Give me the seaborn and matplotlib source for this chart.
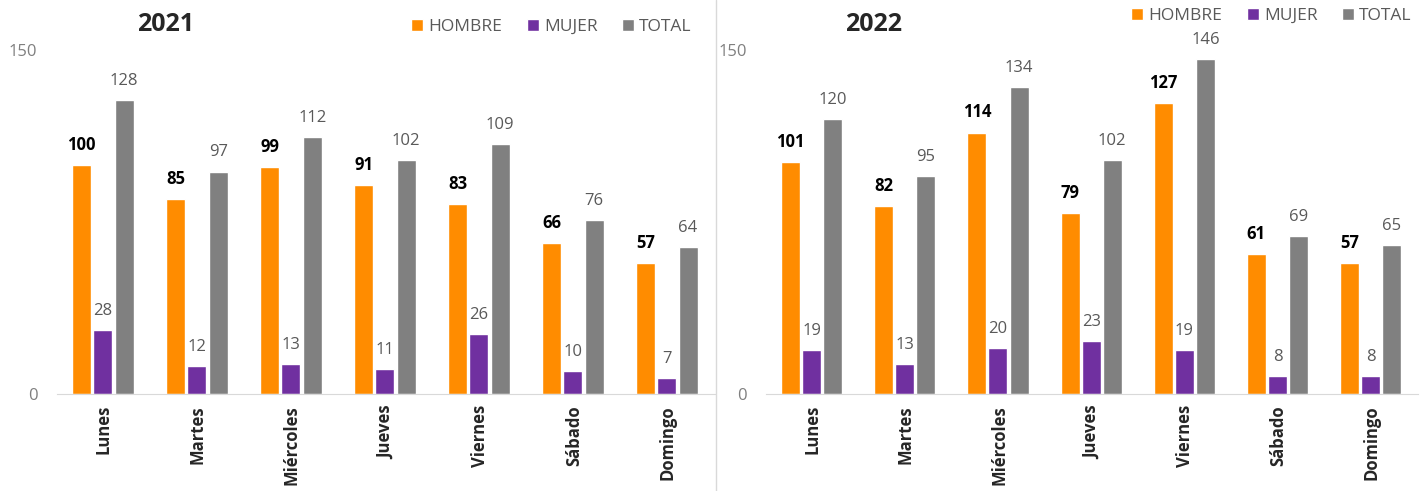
import pandas as pd
import numpy as np
import matplotlib.pyplot as plt
import seaborn as sns

# data
dias = ["Lunes", "Martes", "Miércoles", "Jueves", "Viernes", "Sábado", "Domingo"]
hombre_2021 = [100, 85, 99, 91, 83, 66, 57]
mujer_2021 = [28, 12, 13, 11, 26, 10, 7]
total_2021 = [128, 97, 112, 102, 109, 76, 64]
hombre_2022 = [101, 82, 114, 79, 127, 61, 57]
mujer_2022 = [19, 13, 20, 23, 19, 8, 8]
total_2022 = [120, 95, 134, 102, 146, 69, 65]

series = ["HOMBRE", "MUJER", "TOTAL"]
colores = ["#FF8C00", "#7030A0", "#808080"]


def long_df(h, m, t):
    rows = []
    for i, d in enumerate(dias):
        rows.append((d, "HOMBRE", h[i]))
        rows.append((d, "MUJER", m[i]))
        rows.append((d, "TOTAL", t[i]))
    return pd.DataFrame(rows, columns=["dia", "serie", "valor"])


df21 = long_df(hombre_2021, mujer_2021, total_2021)
df22 = long_df(hombre_2022, mujer_2022, total_2022)

sns.set_style("white")
plt.rcParams["font.family"] = ["Open Sans", "DejaVu Sans"]

fig = plt.figure(figsize=(14.24, 4.91), dpi=100)
ax1 = fig.add_axes([0.040, 0.1976, 0.462, 0.7006])
ax2 = fig.add_axes([0.538, 0.1976, 0.458, 0.7006])

panels = [(ax1, df21, "2021", (0.965, 1.067)), (ax2, df22, "2022", (0.99, 1.10))]
for ax, df, year, leg_pos in panels:
    sns.barplot(data=df, x="dia", y="valor", hue="serie", hue_order=series,
                order=dias, palette=colores, width=0.68, saturation=1,
                ax=ax, errorbar=None)
    for j, cont in enumerate(ax.containers):
        for b in cont:
            b.set_width(b.get_width() * 0.9)
        if j == 0:
            ax.bar_label(cont, padding=8, fontsize=12, fontweight="bold",
                         color="black")
        else:
            ax.bar_label(cont, padding=8, fontsize=12, color="#595959")
    ax.set_ylim(0, 150)
    ax.set_xlim(-0.5, 6.5)
    ax.set_yticks([0, 150])
    ax.tick_params(axis="y", colors="#7F7F7F", labelsize=12, length=0, pad=14)
    ax.set_xticks(range(7))
    ax.set_xticklabels(dias, rotation=90, fontsize=12, fontweight="bold")
    ax.set_xticks(np.arange(-0.5, 7, 1), minor=True)
    ax.tick_params(axis="x", which="major", length=0, pad=8)
    ax.tick_params(axis="x", which="minor", length=7, color="#D9D9D9")
    for s in ["top", "right", "left"]:
        ax.spines[s].set_visible(False)
    ax.spines["bottom"].set_color("#D9D9D9")
    ax.set_xlabel("")
    ax.set_ylabel("")
    ax.text(0.165, 1.075, year, transform=ax.transAxes, ha="center",
            va="center", fontsize=18, fontweight="bold")
    ax.legend(loc="center right", bbox_to_anchor=leg_pos, ncol=3, frameon=False,
              fontsize=12.5, handlelength=0.7, handleheight=0.7,
              handletextpad=0.3, columnspacing=1.4, labelcolor="#595959",
              borderpad=0, borderaxespad=0)

fig.add_artist(plt.Line2D([0.5025, 0.5025], [0.0, 1.0], color="#D9D9D9",
                          lw=1, transform=fig.transFigure))

fig.savefig("out.png", dpi=100)
